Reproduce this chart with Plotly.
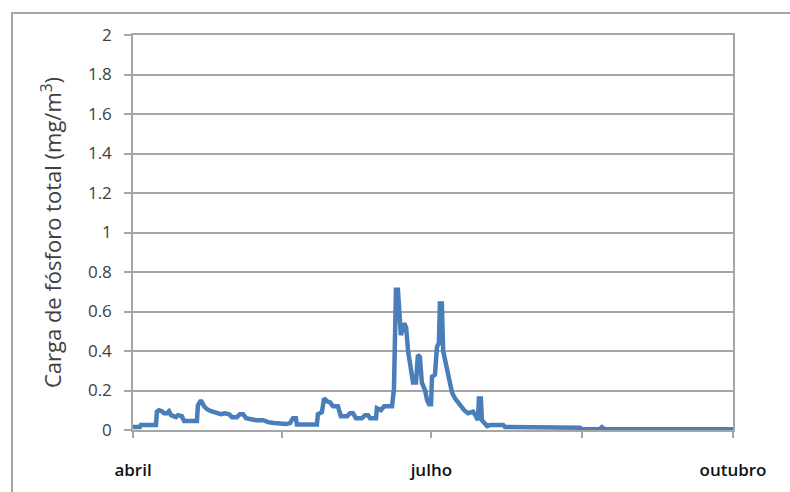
import plotly.graph_objects as go

# Dias contados a partir de 1 de abril e carga de fósforo total (mg/m³)
dias = [0, 2.1, 2.4, 7.0, 7.3, 7.9, 8.8, 9.5, 10.4, 11.0, 11.6, 13.1, 13.7, 14.9, 15.6,
        19.5, 19.8, 20.7, 21.7, 22.6, 23.8, 25.3, 26.8, 28.1, 29.3, 30.2, 31.7, 32.6,
        33.6, 34.5, 36.3, 37.5, 39.7, 41.2, 43.0, 44.8, 46.7, 47.9, 48.8, 49.7, 50.0,
        56.1, 56.4, 57.6, 58.3, 59.2, 60.1, 61.0, 62.5, 63.4, 65.3, 66.2, 67.1, 68.0,
        69.8, 70.8, 71.7, 72.3, 74.1, 74.4, 75.6, 76.6, 79.0, 79.6, 80.2, 80.8, 81.7,
        82.7, 83.3, 83.9, 84.8, 85.4, 86.3, 86.9, 87.5, 88.1, 89.1, 89.7, 90.3, 90.9,
        91.2, 92.1, 92.7, 93.3, 93.6, 94.2, 94.6, 95.5, 96.4, 97.3, 98.2, 99.7, 101.0,
        102.2, 103.7, 104.6, 105.2, 105.5, 106.1, 106.4, 107.4, 108.0, 108.9, 112.9,
        113.5, 115.9, 116.5, 136.3, 136.9, 142.4, 143.0, 143.9, 183]
carga = [0.015, 0.015, 0.025, 0.025, 0.093, 0.10, 0.095, 0.085, 0.085, 0.095, 0.075,
         0.065, 0.075, 0.07, 0.045, 0.045, 0.125, 0.15, 0.12, 0.105, 0.095, 0.09, 0.08,
         0.085, 0.08, 0.065, 0.065, 0.08, 0.08, 0.06, 0.055, 0.05, 0.05, 0.04, 0.035,
         0.03, 0.03, 0.035, 0.06, 0.06, 0.028, 0.028, 0.08, 0.09, 0.16, 0.145, 0.14,
         0.12, 0.12, 0.07, 0.07, 0.085, 0.085, 0.06, 0.06, 0.075, 0.075, 0.06, 0.06,
         0.11, 0.10, 0.12, 0.12, 0.21, 0.71, 0.71, 0.48, 0.54, 0.52, 0.40, 0.30, 0.24,
         0.24, 0.38, 0.37, 0.24, 0.20, 0.15, 0.13, 0.13, 0.27, 0.28, 0.42, 0.44, 0.64,
         0.64, 0.40, 0.32, 0.25, 0.19, 0.16, 0.13, 0.10, 0.085, 0.093, 0.07, 0.05, 0.16,
         0.16, 0.05, 0.03, 0.02, 0.025, 0.025, 0.015, 0.015, 0.012, 0.012, 0.004, 0.004,
         0.014, 0.004, 0.004]

marcas_x = [0, 45.5, 91, 137, 183]
rotulos_x = ["abril", "", "julho", "", "outubro"]
marcas_y = [0, 0.2, 0.4, 0.6, 0.8, 1, 1.2, 1.4, 1.6, 1.8, 2]
rotulos_y = ["0", "0.2", "0.4", "0.6", "0.8", "1", "1.2", "1.4", "1.6", "1.8", "2"]

cinza = "#a6a6a6"
fonte = "Open Sans, Noto Sans, sans-serif"

fig = go.Figure()
fig.add_trace(go.Scatter(
    x=dias, y=carga, mode="lines",
    line=dict(color="#4a7ebb", width=4.5),
    showlegend=False, hoverinfo="skip",
))

fig.update_layout(
    width=790, height=492,
    margin=dict(l=133, r=57, t=35, b=62),
    paper_bgcolor="white", plot_bgcolor="white",
    font=dict(family=fonte),
    xaxis=dict(
        range=[0, 183], tickvals=marcas_x, ticktext=rotulos_x,
        showgrid=False, zeroline=False, automargin=False,
        showline=True, linecolor=cinza, linewidth=1.5, mirror=True,
        ticks="outside", ticklen=6, tickcolor=cinza, tickwidth=1.5,
        ticklabelstandoff=18,
        tickfont=dict(size=17, color="#111111", weight=600),
    ),
    yaxis=dict(
        range=[0, 2], tickvals=marcas_y, ticktext=rotulos_y,
        showgrid=True, gridcolor=cinza, gridwidth=1.5, zeroline=False,
        automargin=False,
        showline=True, linecolor=cinza, linewidth=1.5, mirror=True,
        ticks="outside", ticklen=7, tickcolor=cinza, tickwidth=1.5,
        ticklabelstandoff=9,
        tickfont=dict(size=17, color="#404040"),
        title=dict(text="Carga de fósforo total (mg/m<sup>3</sup>)",
                   font=dict(size=22, color="#404040"), standoff=20),
    ),
    shapes=[dict(
        type="rect", xref="paper", yref="paper",
        x0=-0.2017, x1=1.12, y0=-0.18, y1=1.0557,
        line=dict(color=cinza, width=2), layer="below",
    )],
)

fig.write_html("out.html")
